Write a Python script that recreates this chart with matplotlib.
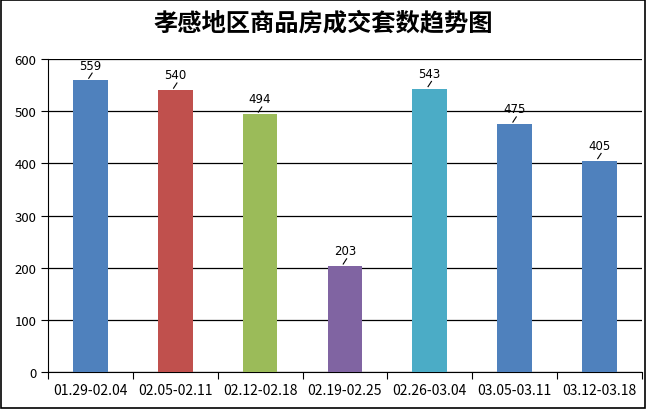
import matplotlib.pyplot as plt
from matplotlib.patches import Rectangle

plt.rcParams["font.family"] = ["Noto Sans CJK SC", "DejaVu Sans"]

# 数据
weeks = ["01.29-02.04", "02.05-02.11", "02.12-02.18", "02.19-02.25",
         "02.26-03.04", "03.05-03.11", "03.12-03.18"]
deals = [559, 540, 494, 203, 543, 475, 405]
colors = ["#4F81BD", "#C0504D", "#9BBB59", "#8064A2", "#4BACC6", "#4F81BD", "#4F81BD"]

fig = plt.figure(figsize=(6.47, 4.10), dpi=100)
fig.patches.append(Rectangle((0.002, 0.003), 0.995, 0.994, transform=fig.transFigure,
                             fill=False, edgecolor="black", linewidth=1.2))

ax = fig.add_axes([0.0742, 0.0902, 0.9178, 0.7635])
x = list(range(len(weeks)))
ax.bar(x, deals, width=0.41, color=colors, zorder=3)

# 数据标签 + 引线
for xi, v in zip(x, deals):
    ax.plot([xi - 0.02, xi + 0.02], [v + 4, v + 14], color="black", linewidth=0.8, zorder=4)
    ax.text(xi, v + 17, str(v), ha="center", va="bottom", fontsize=8.5, family="DejaVu Sans")

ax.set_ylim(0, 600)
ax.set_xlim(-0.5, len(weeks) - 0.5)
ax.set_yticks(range(0, 601, 100))
ax.yaxis.grid(True, color="black", linewidth=0.9, zorder=0)
ax.set_axisbelow(True)

# x轴刻度位于类别之间
ax.set_xticks([i - 0.5 for i in range(len(weeks) + 1)])
ax.set_xticklabels([])
ax.set_xticks(x, minor=True)
ax.set_xticklabels(weeks, minor=True, fontsize=10)
ax.tick_params(axis="x", which="minor", length=0, pad=8)
ax.tick_params(axis="x", which="major", length=5, direction="out")
ax.tick_params(axis="y", length=5, direction="out", labelsize=9.5)

for side in ["top", "right"]:
    ax.spines[side].set_visible(False)

fig.text(0.5, 0.943, "孝感地区商品房成交套数趋势图", ha="center", va="center",
         fontsize=17.5, fontweight="bold")

fig.savefig("out.png", dpi=100)
